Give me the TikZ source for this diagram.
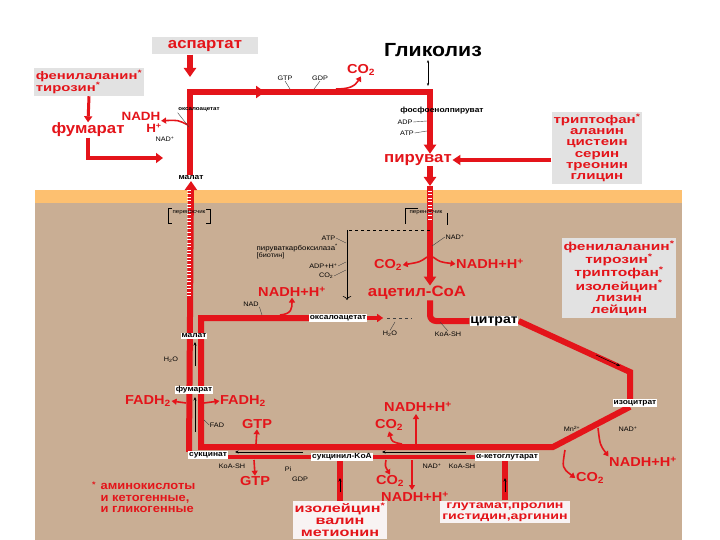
\documentclass[tikz,border=0pt]{standalone}
\usepackage{fontspec}
\setmainfont{Liberation Sans}[FakeStretch=1.12]
\newfontfamily\widefont{Liberation Sans}[FakeStretch=1.35]
\usetikzlibrary{arrows.meta,positioning,calc}
\definecolor{cred}{RGB}{228,20,26}
\definecolor{tanbg}{RGB}{201,174,148}
\definecolor{bandbg}{RGB}{253,192,112}
\definecolor{boxgray}{RGB}{226,226,226}
\definecolor{boxpale}{RGB}{248,243,243}
\pgfdeclarelayer{back}
\pgfdeclarelayer{lines}
\pgfsetlayers{back,lines,main}

\begin{document}
\begin{tikzpicture}[x=1pt, y=-1pt,
    route/.style={draw=cred, line width=6pt},
    routearr/.style={route, -{Triangle[length=9pt,width=12pt]}},
    hatch/.style={draw=white, line width=4pt, dash pattern=on 1pt off 2.5pt},
    redtip/.style={draw=cred, line width=1.6pt, -{Triangle[length=5pt,width=6pt]}},
    inarr/.style={draw=black, line width=0.5pt, -{Stealth[length=3.5pt,width=3pt]}},
    tick/.style={draw=black!75, line width=0.4pt},
    lbl/.style={fill=white, inner sep=0.8pt, font=\bfseries\fontsize{7.5}{8}\selectfont},
    tiny/.style={inner sep=0.5pt, font=\fontsize{6.5}{7}\selectfont},
    redt/.style={text=cred, inner sep=0.5pt, font=\bfseries\fontsize{#1}{#1}\selectfont},
    redt/.default=13,
    aabox/.style={fill=#1, text=cred, align=center, inner sep=2pt,
                  font=\widefont\bfseries\fontsize{11.2}{11.2}\selectfont},
    aabox/.default=boxgray
]
\useasboundingbox (0,0) rectangle (720,540);
\begin{pgfonlayer}{back}
  \fill[white] (0,0) rectangle (720,540);
  \fill[bandbg] (35,190) rectangle (682,203);
  \fill[tanbg] (35,203) rectangle (682,540);
\end{pgfonlayer}

% cytosol: gluconeogenesis
\node[aabox, font=\bfseries\fontsize{15}{15}\selectfont, minimum width=106pt, minimum height=17pt] (asp) at (205,46) {аспартат};
\node[font=\bfseries\fontsize{19}{19}\selectfont] (glyc) at (433,50) {Гликолиз};
\node[aabox, align=left, minimum width=110pt, minimum height=27pt, font=\widefont\bfseries\fontsize{11}{11.5}\selectfont] (phe1) at (89,82) {фенилаланин\textsuperscript{*}\\тирозин\textsuperscript{*}};
\node[redt=15] (fum) at (88,130) {фумарат};
\node[redt=12] (nadh1) at (141,116) {NADH};
\node[redt=12] (hp1) at (154,128) {H\textsuperscript{+}};
\node[tiny, font=\bfseries\fontsize{5.5}{6}\selectfont] (oxtop) at (199,110) {оксалоацетат};
\node[tiny] (nad1) at (165,139) {NAD\textsuperscript{+}};
\node[lbl] (malat1) at (191,178) {малат};
\node[tiny] (gtp1) at (285,78) {GTP};
\node[tiny] (gdp1) at (320,78) {GDP};
\node[redt] (co2a) at (361,70) {CO\textsubscript{2}};
\node[lbl, fill=none] (pep) at (442,111) {фосфоенолпируват};
\node[tiny] (adp1) at (405,122) {ADP};
\node[tiny] (atp1) at (407,133) {ATP};
\node[redt=15] (pyr) at (418,160) {пируват};
\node[aabox, minimum width=88pt, minimum height=67pt] (trp) at (597,148) {триптофан\textsuperscript{*}\\аланин\\цистеин\\серин\\треонин\\глицин};

% mitochondrion
\node[tiny, font=\fontsize{5.5}{6}\selectfont] (car1) at (189,213) {переносчик};
\node[tiny, font=\fontsize{5.5}{6}\selectfont] (car2) at (426,213) {переносчик};
\node[tiny] (nad2) at (455,237) {NAD\textsuperscript{+}};
\node[redt] (co2b) at (388,265) {CO\textsubscript{2}};
\node[redt] (nadh2) at (490,264) {NADH+H\textsuperscript{+}};
\node[redt=15] (acoa) at (417,293) {ацетил-CoA};
\node[aabox, minimum width=112pt, minimum height=70pt, font=\widefont\bfseries\fontsize{11.5}{11.5}\selectfont] (phe2) at (619,278) {фенилаланин\textsuperscript{*}\\тирозин\textsuperscript{*}\\триптофан\textsuperscript{*}\\изолейцин\textsuperscript{*}\\лизин\\лейцин};
\node[tiny, anchor=east] (atp2) at (336,238) {ATP};
\node[tiny, anchor=west, font=\fontsize{7}{7}\selectfont] (pcx) at (256,248) {пируваткарбоксилаза\textsuperscript{*}};
\node[tiny, anchor=west] (bio) at (256,256) {[биотин]};
\node[tiny, anchor=east] (adp2) at (338,266) {ADP+H\textsuperscript{+}};
\node[tiny, anchor=east] (co2p) at (334,276) {CO\textsubscript{2}};
\node[redt] (nadh3) at (292,292) {NADH+H\textsuperscript{+}};
\node[tiny] (nad3) at (251,304) {NAD};
\node[lbl] (oxa) at (338,318) {оксалоацетат};
\node[lbl, font=\bfseries\fontsize{12.5}{13}\selectfont] (cit) at (494,321) {цитрат};
\node[tiny] (h2o1) at (390,334) {H\textsubscript{2}O};
\node[tiny] (koa1) at (448,334) {KoA-SH};
\node[lbl] (icit) at (635,403) {изоцитрат};
\node[tiny] (mn) at (572,429) {Mn\textsuperscript{2+}};
\node[tiny] (nad4) at (628,429) {NAD\textsuperscript{+}};
\node[redt] (nadh5) at (643,462) {NADH+H\textsuperscript{+}};
\node[redt] (co2e) at (590,478) {CO\textsubscript{2}};
\node[lbl] (akg) at (507,457) {α-кетоглутарат};
\node[lbl] (sucoa) at (342,457) {сукцинил-KoA};
\node[lbl] (succ) at (208,455) {сукцинат};
\node[redt] (nadh6) at (418,407) {NADH+H\textsuperscript{+}};
\node[redt] (co2c) at (389,425) {CO\textsubscript{2}};
\node[redt] (co2d) at (390,481) {CO\textsubscript{2}};
\node[redt] (nadh7) at (415,497) {NADH+H\textsuperscript{+}};
\node[tiny] (nad5) at (432,466) {NAD\textsuperscript{+}};
\node[tiny] (koa3) at (462,466) {KoA-SH};
\node[redt] (gtpa) at (257,424) {GTP};
\node[redt] (gtpb) at (255,481) {GTP};
\node[tiny] (koa2) at (232,466) {KoA-SH};
\node[tiny] (pi) at (288,469) {Pi};
\node[tiny] (gdp2) at (300,479) {GDP};
\node[lbl] (malat2) at (194,336) {малат};
\node[tiny] (h2o2) at (171,360) {H\textsubscript{2}O};
\node[lbl] (fum2) at (194,390) {фумарат};
\node[redt] (fadhl) at (148,401) {FADH\textsubscript{2}};
\node[redt] (fadhr) at (243,401) {FADH\textsubscript{2}};
\node[tiny] (fad) at (217,425) {FAD};
\node[aabox=boxpale, minimum width=88pt, minimum height=37pt, font=\widefont\bfseries\fontsize{12}{12}\selectfont] (ileu) at (340,520) {изолейцин\textsuperscript{*}\\валин\\метионин};
\node[aabox=boxpale, minimum width=130pt, minimum height=22pt, font=\widefont\bfseries\fontsize{10.5}{11}\selectfont] (glu) at (505,512) {глутамат,пролин\\гистидин,аргинин};
\node[redt=12] (star) at (94,487) {\textsuperscript{*}};
\node[redt, anchor=north west, align=left, font=\bfseries\fontsize{11.5}{11.5}\selectfont] (note) at (100,483) {аминокислоты\\и кетогенные,\\и гликогенные};

\coordinate (tl) at (190,92);
\coordinate (tr) at (430,92);
\coordinate (fumend) at (163,158);
\coordinate (ll) at (189,452);
\coordinate (oxl) at (201,318);
\coordinate (bl) at (201,447);
\coordinate (br) at (553,447);
\coordinate (ic1) at (630,372);
\coordinate (pc) at (347,230);

\begin{pgfonlayer}{lines}
  % top route
  \draw[routearr] (asp.south -| tl) -- ($(tl)+(0,-15)$);
  \draw[routearr] (malat1.north -| tl) -- (tl) -- (tr) -- (tr |- pyr.north);
  \draw[routearr] (tl) -- ($(tl)+(75,0)$);
  \draw[route, line width=3pt, -{Triangle[length=6pt,width=8pt]}] (phe1.south) -- (fum.north);
  \draw[route, line width=4.5pt, -{Triangle[length=7pt,width=10pt]}] (fum.south) |- (fumend);
  \draw[redtip] (188,125) .. controls (178,120) .. (nadh1.south east);
  \draw[redtip] (336,89) .. controls (350,89) and (355,86) .. (co2a.south);
  \draw[route, line width=4.5pt, -{Triangle[length=8pt,width=10pt]}] (pyr.east -| trp.west) -- (pyr.east);
  \draw[{Stealth[length=3pt]}-{Stealth[length=3pt]}, line width=0.4pt] (428,60) -- (428,86);
  % carriers
  \draw[routearr] (pyr.south -| tr) -- (430,186);
  \draw[routearr] (430,186) -- (tr |- acoa.north);
  \draw[hatch] (430,191) -- (430,222);
  \draw[routearr] (ll) -- (malat1.south);
  \draw[hatch] (189,190) -- (189,298);
  % TCA cycle
  \draw[route] (oxa.west) -- (oxl) -- (bl) -- (br) -- (ic1 |- icit.south);
  \draw[route] (cit.east) -- (ic1) -- (ic1 |- icit.north);
  \draw[route, rounded corners=6pt] (acoa.south -| tr) |- (cit.west);
  \draw[route, line width=4pt, -{Triangle[length=6pt,width=8pt]}] (oxa.east) -- ++(16,0);
  \draw[tick, dashed] ($(oxa.east)+(20,0)$) -- (412,318);
  \draw[route, line width=4.5pt] (sucoa.west -| succ.east) -- (sucoa.west);
  \draw[route, line width=4.5pt] (sucoa.east) -- (akg.west);
  \draw[route] (ileu.north) -- (ileu.north |- sucoa.south);
  \draw[route] (glu.north) -- (glu.north |- akg.south);
\end{pgfonlayer}

% side products
\draw[redtip] (427,257) .. controls (420,262) .. (co2b.east);
\draw[redtip] (433,257) .. controls (440,262) .. (nadh2.west);
\draw[redtip] (280,315) .. controls (292,314) and (292,308) .. (nadh3.south);
\draw[redtip] (598,428) .. controls (600,445) .. (nadh5.north west);
\draw[redtip] (565,450) .. controls (562,468) .. (co2e.west);
\draw[redtip] (402,444) .. controls (392,442) .. (co2c.south);
\draw[redtip] (416,444) -- (416,414);
\draw[redtip] (386,460) .. controls (385,466) .. (co2d.north);
\draw[redtip] (412,460) -- (412,490);
\draw[redtip] (256,444) -- (gtpa.south);
\draw[redtip] (254,460) -- (gtpb.north);
\draw[redtip] (186,403) -- (fadhl.east);
\draw[redtip] (204,403) -- (fadhr.west);

% inner arrows and pyruvate carboxylase
\draw[inarr] (195,366) -- (195,342);
\draw[inarr] (195,432) -- (195,397);
\draw[inarr] (303,452) -- (235,452);
\draw[inarr] (466,452) -- (382,452);
\draw[inarr] (596,355) -- (620,366);
\draw[inarr, line width=0.8pt] (340,492) -- (340,478);
\draw[inarr, line width=0.8pt] (505,492) -- (505,478);
\draw[dashed, line width=0.6pt] (tr |- pc) -- (pc);
\draw[line width=0.6pt, -{To[length=4pt]}] (pc) -- (347,300);

% carrier brackets and ticks
\draw[line width=0.6pt] (172,208) -- (168,208) -- (168,223) -- (172,223);
\draw[line width=0.6pt] (206,209) -- (210,209) -- (210,223) -- (206,223);
\draw[line width=0.6pt] (418,208) -- (405,208) -- (405,224);
\draw[line width=0.6pt] (447,213) -- (447,225);
\draw[tick] (nad2.west) -- (432,246);
\draw[tick] (atp2.east) -- (346,243);
\draw[tick] (adp2.east) -- (346,262);
\draw[tick] (co2p.east) -- (346,270);
\draw[tick] (nad3.south east) -- (262,315);
\draw[tick] (gtp1.south) -- (290,89);
\draw[tick] (gdp1.south) -- (314,89);
\draw[tick] (adp1.east) -- (427,121);
\draw[tick] (atp1.east) -- (427,131);
\draw[tick] (oxtop.south west) -- (189,127);
\draw[tick] (fad.west) -- (204,420);
\draw[tick] (h2o1.north) -- (395,322);
\draw[tick] (koa1.north) -- (440,322);
\end{tikzpicture}
\end{document}
